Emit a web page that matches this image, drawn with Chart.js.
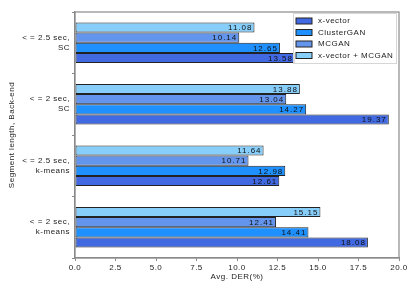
<!DOCTYPE html>
<html>
<head>
<meta charset="utf-8">
<script src="https://cdn.jsdelivr.net/npm/chart.js@4"></script>
<style>
  html, body { margin: 0; padding: 0; background: #fff; }
  #wrap { width: 415px; height: 294px; }
</style>
</head>
<body>
<div id="wrap"><canvas id="myChart"></canvas></div>
<script>
// categories, top to bottom
const categories = [['< = 2.5 sec,', 'SC'], ['< = 2 sec,', 'SC'], ['< = 2.5 sec,', 'k-means'], ['< = 2 sec,', 'k-means']];
const xTicks = [0, 2.5, 5, 7.5, 10, 12.5, 15, 17.5, 20];

// series values (same order as categories)
const xvector = [13.58, 19.37, 12.61, 18.08];
const clusterGan = [12.65, 14.27, 12.98, 14.41];
const mcgan = [10.14, 13.04, 10.71, 12.41];
const xvectorMcgan = [11.08, 13.88, 11.64, 15.15];

const FONT = 'Liberation Sans';

// a little letter spacing on all text, like the original
const spacing = {
  id: 'spacing',
  beforeDraw(chart) { chart.ctx.letterSpacing = '0.5px'; }
};

// value labels at the end of each bar
const barLabels = {
  id: 'barLabels',
  afterDatasetsDraw(chart) {
    const ctx = chart.ctx;
    ctx.save();
    ctx.font = '8px "' + FONT + '"';
    ctx.letterSpacing = '1px';
    ctx.fillStyle = '#111';
    ctx.textAlign = 'right';
    ctx.textBaseline = 'middle';
    chart.data.datasets.forEach((ds, i) => {
      chart.getDatasetMeta(i).data.forEach((bar, j) => {
        ctx.fillText(ds.data[j].toFixed(2), bar.x - 2, bar.y + 0.5);
      });
    });
    ctx.restore();
  }
};

// frame round the plot + legend inside upper right
const frameAndLegend = {
  id: 'frameAndLegend',
  afterDraw(chart) {
    const ctx = chart.ctx;
    const a = chart.chartArea;
    ctx.save();
    ctx.strokeStyle = '#8a8a8a';
    ctx.lineWidth = 1.2;
    ctx.strokeRect(a.left, a.top, a.right - a.left, a.bottom - a.top);

    // legend (reverse order: x-vector first)
    const items = chart.data.datasets.slice().reverse();
    const bx = 293, by = 13, bw = 103, bh = 50;
    ctx.fillStyle = 'rgba(255,255,255,0.85)';
    ctx.fillRect(bx, by, bw, bh);
    ctx.strokeStyle = '#d6d6d6';
    ctx.lineWidth = 1;
    ctx.strokeRect(bx + 0.5, by + 0.5, bw, bh);
    ctx.font = '8px "' + FONT + '"';
    ctx.letterSpacing = '0.5px';
    ctx.textBaseline = 'middle';
    ctx.textAlign = 'left';
    items.forEach((ds, i) => {
      const y = by + 8 + i * 11.5;
      ctx.fillStyle = ds.backgroundColor;
      ctx.fillRect(bx + 3, y - 3, 16, 6);
      ctx.strokeStyle = '#222';
      ctx.strokeRect(bx + 3, y - 3, 16, 6);
      ctx.fillStyle = '#222';
      ctx.fillText(ds.label, bx + 25, y);
    });
    ctx.restore();
  }
};

const ctx = document.getElementById('myChart');
new Chart(ctx, {
  type: 'bar',
  data: {
    labels: categories,
    datasets: [
      { label: 'x-vector + MCGAN', data: xvectorMcgan, backgroundColor: '#87CEFA' },
      { label: 'MCGAN', data: mcgan, backgroundColor: '#6495ED' },
      { label: 'ClusterGAN', data: clusterGan, backgroundColor: '#1E90FF' },
      { label: 'x-vector', data: xvector, backgroundColor: '#4169E1' }
    ].map(d => Object.assign(d, { borderColor: '#222', borderWidth: 1, borderSkipped: false }))
  },
  options: {
    indexAxis: 'y',
    responsive: true,
    maintainAspectRatio: false,
    animation: false,
    datasets: { bar: { categoryPercentage: 0.66, barPercentage: 1.0 } },
    layout: { padding: { top: 10, right: 16, left: 7, bottom: 12 } },
    scales: {
      x: {
        min: 0,
        max: 20,
        afterBuildTicks: s => { s.ticks = xTicks.map(v => ({ value: v })); },
        afterFit: s => { s.height = 24; },
        grid: { drawOnChartArea: false, drawTicks: true, tickLength: 3, color: '#8a8a8a' },
        border: { color: '#8a8a8a', width: 1.2 },
        ticks: { color: '#222', font: { family: FONT, size: 8 }, padding: 2, callback: v => v.toFixed(1) },
        title: { display: true, text: 'Avg. DER(%)', color: '#222', font: { family: FONT, size: 8 }, padding: { top: 1, bottom: 0 } }
      },
      y: {
        afterFit: s => { s.width = 68; },
        grid: { drawOnChartArea: false, drawTicks: true, tickLength: 3, color: '#8a8a8a' },
        border: { color: '#8a8a8a', width: 1.2 },
        ticks: { color: '#222', font: { family: FONT, size: 8, lineHeight: 1.25 }, padding: 2 },
        title: { display: true, text: 'Segment length, Back-end', color: '#222', font: { family: FONT, size: 8 }, padding: { top: 0, bottom: 4 } }
      }
    },
    plugins: {
      legend: { display: false },
      tooltip: { enabled: false }
    }
  },
  plugins: [spacing, barLabels, frameAndLegend]
});
</script>
</body>
</html>
